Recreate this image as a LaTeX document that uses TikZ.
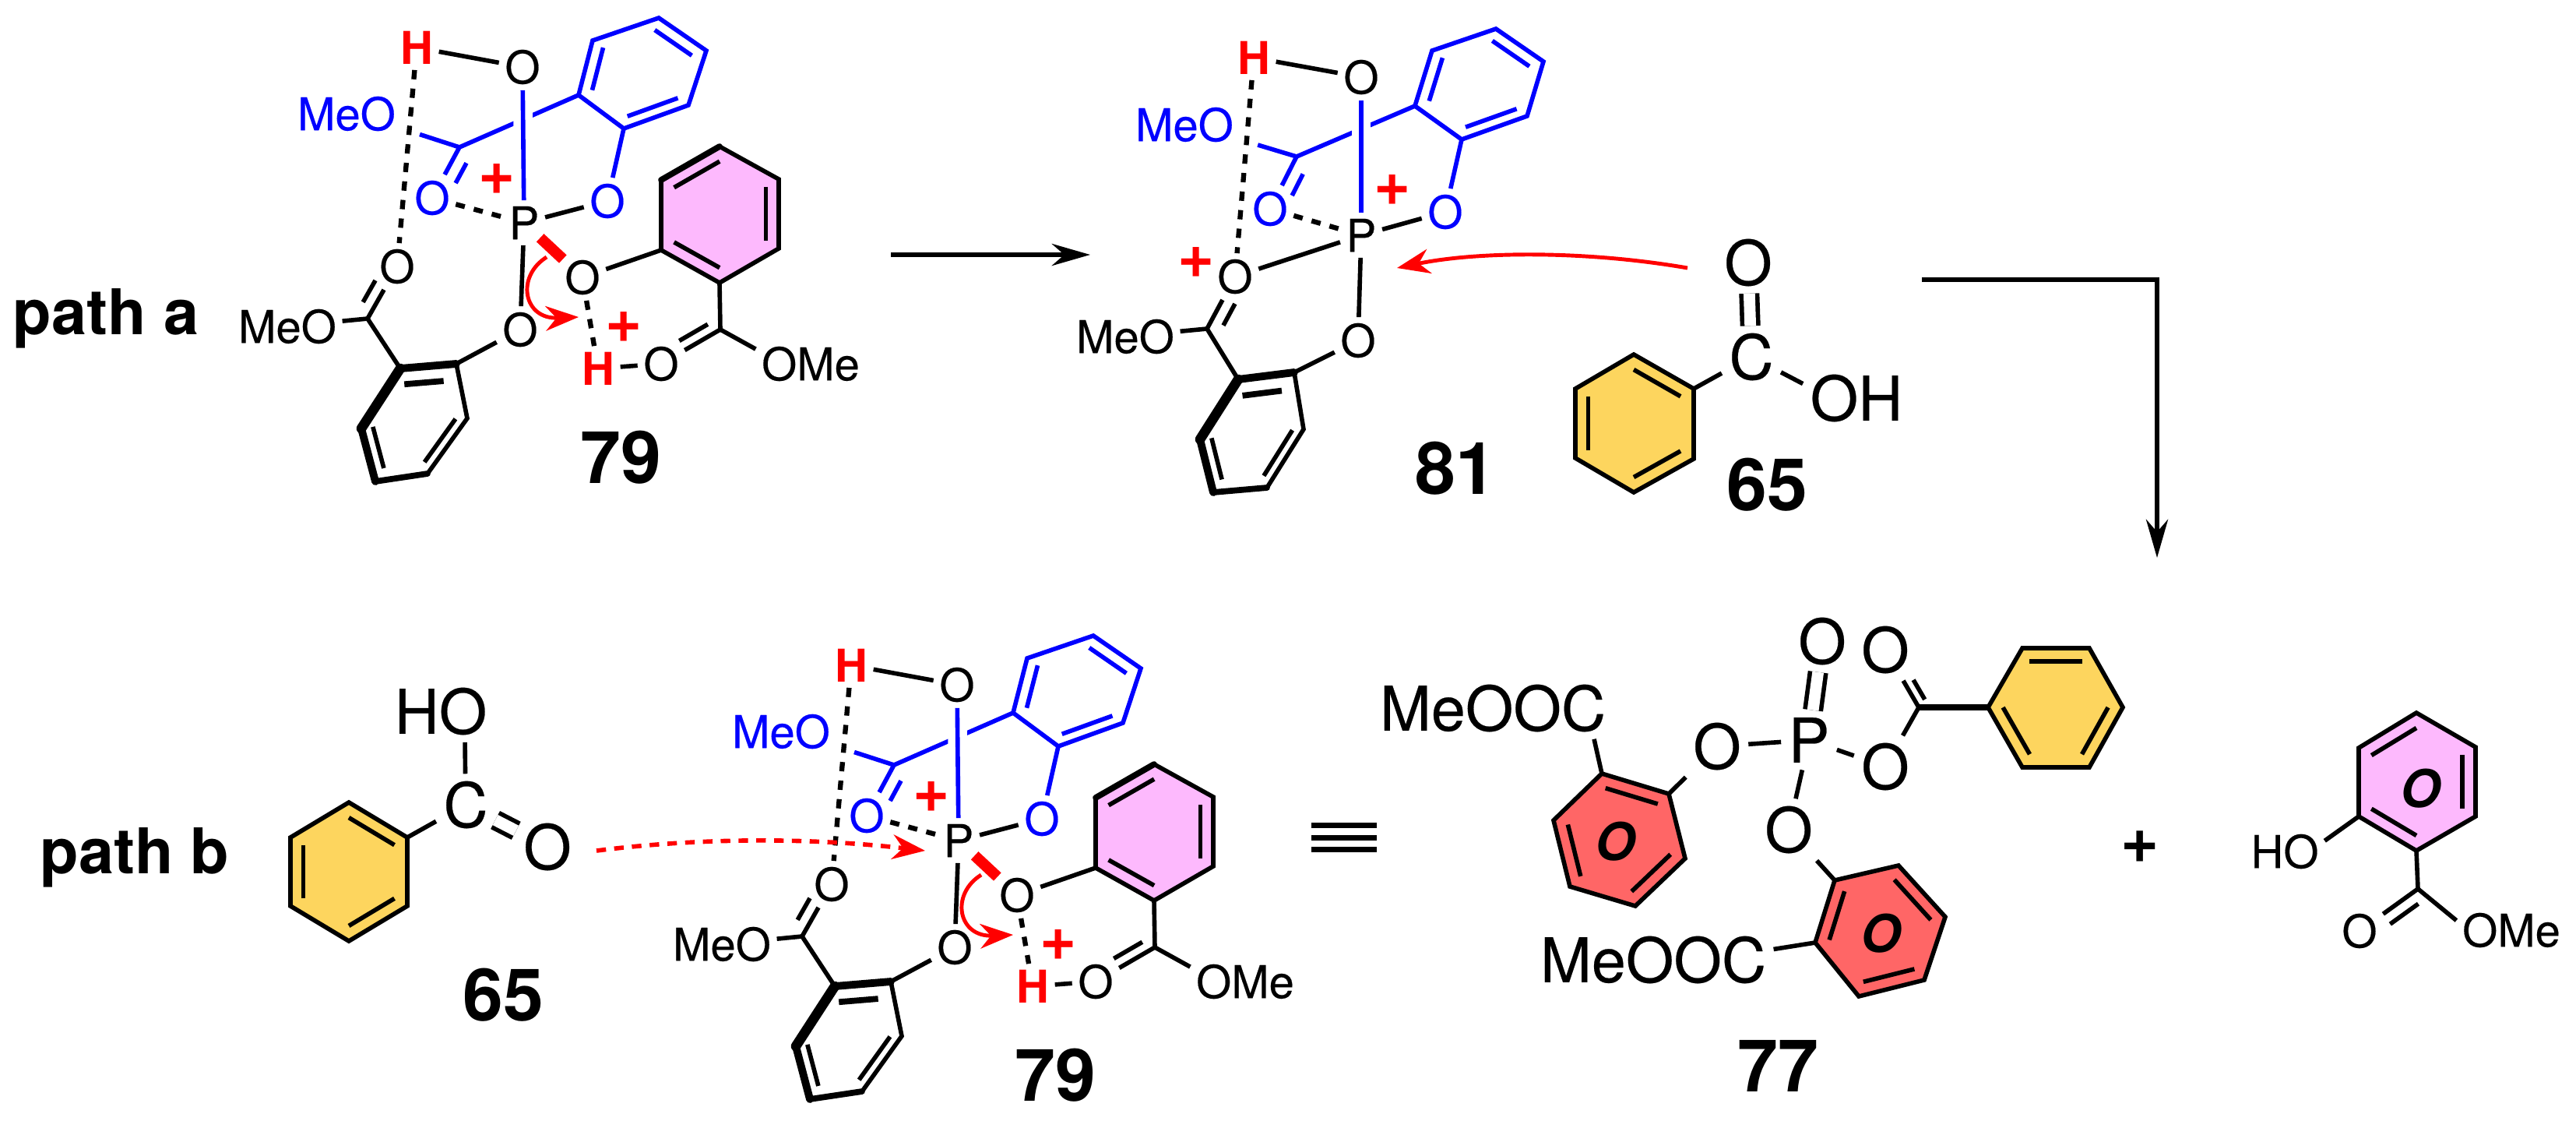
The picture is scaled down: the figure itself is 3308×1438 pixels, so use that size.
\documentclass[tikz,border=0pt]{standalone}
\usepackage{fontspec}
\setmainfont{TeX Gyre Heros}[UprightFeatures = {FakeBold = 0.3}]
\usetikzlibrary{calc, arrows.meta}
\definecolor{molblue}{RGB}{0,0,255}
\definecolor{molred}{RGB}{255,0,0}
\definecolor{ringpink}{RGB}{253,185,253}
\definecolor{ringyellow}{RGB}{253,213,94}
\definecolor{ringred}{RGB}{255,102,102}
\tikzset{
	bond/.style = {line width = 1.6pt},
	hbond/.style = {line width = 1.8pt, dash pattern = on 3.4pt off 3.4pt},
	symdouble/.style = {bond, double, double distance = 4.2pt},
	atom/.style = {font = \fontsize{16.5}{18}\selectfont, inner sep = 2pt},
	bigatom/.style = {font = \fontsize{22.5}{24}\selectfont, inner sep = 2.5pt},
	chargemark/.style = {font = \fontsize{23}{24}\bfseries\selectfont, text = molred, inner sep = 0pt},
	cmpdlabel/.style = {font = \fontsize{26.5}{28}\bfseries\selectfont, inner sep = 0pt},
	pathlabel/.style = {font = \fontsize{23}{25}\bfseries\selectfont, inner sep = 0pt},
	ringtag/.style = {font = \fontsize{19}{20}\bfseries\itshape\selectfont, inner sep = 0pt},
	wedgebond/.style = {molred, line width = 4pt, shorten < = -2.5pt, shorten > = -2pt},
	redarrow/.style = {molred, line width = 1.4pt, -{Stealth[length = 12pt, width = 9pt]}},
	rxnarrow/.style = {line width = 1.6pt, -{Stealth[length = 14pt, width = 8pt]}}
}
\newcommand{\dbond}[3]{
	\draw [bond] (#1) -- (#2);
	\draw [bond, shorten < = 3pt, transform canvas = {shift = {#3}}] (#1) -- (#2);
}
\newcommand{\hexring}[9]{
	\coordinate (#11) at #3;
	\coordinate (#12) at #4;
	\coordinate (#13) at #5;
	\coordinate (#14) at #6;
	\coordinate (#15) at #7;
	\coordinate (#16) at #8;
	\coordinate (#1c) at ($(#11)!0.5!(#14)$);
	\draw [bond, #2] (#11) -- (#12) -- (#13) -- (#14) -- (#15) -- (#16) -- cycle;
	\foreach \p/\q in {#9}
		\draw [bond] ($(#1\p)!0.22!(#1c)$) -- ($(#1\q)!0.22!(#1c)$);
}
\newcommand{\phosphorane}{
	\begin{scope}[color = molblue]
		\hexring{bl}{}{(761,52)}{(846,23)}{(907,65)}{(884,135)}{(801,165)}{(743,122)}{6/1,2/3,4/5}
		\node [atom] (MeOb) at (445,146) {MeO};
		\node [atom] (Oc) at (555,254) {O};
		\node [atom] (Oe) at (780,258) {O};
		\coordinate (Cb) at (590,189);
		\draw [bond] (bl6) -- (Cb);
		\draw [bond, shorten > = 7pt] (Cb) -- (MeOb.-15);
		\dbond{Cb}{Oc}{(14,11)}
		\draw [bond] (bl5) -- (Oe);
	\end{scope}
	\node [atom, text = molred] (H) at (535,61) {\bfseries H};
	\node [atom] (Ot) at (671,86) {O};
	\node [atom] (P) at (673,286) {P};
	\node [atom] (Ol) at (510,342) {O};
	\node [atom] (Ob) at (668,423) {O};
	\node [atom] (Or) at (748,356) {O};
	\node [atom] (MeOl) at (369,419) {MeO};
	\node [atom, text = molred] (Hr) at (768,473) {\bfseries H};
	\node [atom] (Ocr) at (849,467) {O};
	\node [atom] (OMer) at (1041,467) {OMe};
	\draw [molblue, bond, preaction = {draw, white, line width = 7pt}] (Ot) -- (P);
	\draw [bond] (H) -- (Ot);
	\draw [bond] (P) -- (Oe);
	\draw [bond] (P) -- (Ob);
	\draw [hbond] (Oc) -- (P);
	\draw [hbond] (H) -- (Ol);
	\draw [hbond] (Or) -- (Hr);
	\draw [bond] (Hr) -- (Ocr);
	\draw [wedgebond] (P) -- (Or);
	\hexring{lr}{}{(514,473)}{(586,467)}{(600,537)}{(549,608)}{(482,618)}{(464,550)}{3/4,5/6}
	\draw [line width = 3.6pt, line cap = round] (lr1) -- (lr6);
	\draw [line width = 2.8pt, line cap = round] (lr1) -- (lr2);
	\draw [line width = 2.8pt, line cap = round] (lr6) -- (lr5);
	\draw [line width = 2.2pt, line cap = round] (lr5) -- (lr4);
	\draw [line width = 2.2pt] ($(lr1)!0.3!(lrc)$) -- ($(lr2)!0.3!(lrc)$);
	\coordinate (Cl) at (472,409);
	\dbond{Cl}{Ol}{(-11,-12)}
	\draw [bond] (MeOl) -- (Cl);
	\draw [bond] (lr1) -- (Cl);
	\draw [bond] (Ob) -- (lr2);
	\hexring{pk}{fill = ringpink}{(849,231)}{(924,188)}{(1000,230)}{(1000,319)}{(924,363)}{(849,321)}{1/2,3/4,5/6}
	\draw [line width = 2.2pt, line cap = round] (pk1) -- (pk2);
	\draw [bond] (Or) -- (pk6);
	\coordinate (Cr) at (925,423);
	\draw [bond] (pk5) -- (Cr);
	\dbond{Cr}{Ocr}{(-7,-12)}
	\draw [bond] (Cr) -- (OMer.165);
	\node [chargemark] (plusa) at (638,230) {+};
	\node [chargemark] (plusb) at (801,420) {+};
	\coordinate (arcs) at (702,330);
	\coordinate (arce) at (743,407);
	\draw [redarrow] (arcs) .. controls (662,355) and (672,410) .. (arce);
	\node [cmpdlabel] (lab) at (797,587) {79};
}
\begin{document}
\begin{tikzpicture}[x = 0.01cm, y = -0.01cm]
	\useasboundingbox (0,0) rectangle (3308,1438);

	\node [pathlabel] (patha) at (136,409) {path a};
	\node [pathlabel] (pathb) at (173,1101) {path b};

	\begin{scope}[name prefix = top-]
		\phosphorane
	\end{scope}
	\begin{scope}[shift = {(558,793)}, name prefix = low-]
		\phosphorane
	\end{scope}

	\coordinate (arras) at (1144,327);
	\coordinate (arrae) at (1400,327);
	\draw [rxnarrow] (arras) -- (arrae);
	\coordinate (arrbs) at (2468,359);
	\coordinate (arrbe) at (2770,716);
	\draw [rxnarrow] (arrbs) -| (arrbe);

	\begin{scope}[color = molblue]
		\hexring{mbl}{}{(1839,65)}{(1921,37)}{(1982,79)}{(1961,149)}{(1877,179)}{(1817,136)}{6/1,2/3,4/5}
		\node [atom] (mMeOb) at (1521,160) {MeO};
		\node [atom] (mOc) at (1631,268) {O};
		\node [atom] (mOe) at (1856,272) {O};
		\coordinate (mCb) at (1665,201);
		\draw [bond] (mbl6) -- (mCb);
		\draw [bond, shorten > = 7pt] (mCb) -- (mMeOb.-15);
		\dbond{mCb}{mOc}{(13,13)}
		\draw [bond] (mbl5) -- (mOe);
	\end{scope}
	\node [atom, text = molred] (mH) at (1610,74) {\bfseries H};
	\node [atom] (mOt) at (1748,99) {O};
	\node [atom] (mP) at (1748,302) {P};
	\node [atom] (mOl) at (1586,355) {O};
	\node [atom] (mOb) at (1744,437) {O};
	\node [atom] (mMeOl) at (1445,432) {MeO};
	\draw [molblue, bond, preaction = {draw, white, line width = 7pt}] (mOt) -- (mP);
	\draw [bond] (mH) -- (mOt);
	\draw [bond] (mP) -- (mOe);
	\draw [bond] (mP) -- (mOl);
	\draw [bond] (mP) -- (mOb);
	\draw [hbond] (mOc) -- (mP);
	\draw [hbond] (mH) -- (mOl);
	\hexring{mlr}{}{(1590,487)}{(1662,478)}{(1674,551)}{(1627,626)}{(1558,632)}{(1541,564)}{3/4,5/6}
	\draw [line width = 3.6pt, line cap = round] (mlr1) -- (mlr6);
	\draw [line width = 2.8pt, line cap = round] (mlr1) -- (mlr2);
	\draw [line width = 2.8pt, line cap = round] (mlr6) -- (mlr5);
	\draw [line width = 2.2pt, line cap = round] (mlr5) -- (mlr4);
	\draw [line width = 2.2pt] ($(mlr1)!0.3!(mlrc)$) -- ($(mlr2)!0.3!(mlrc)$);
	\coordinate (mCl) at (1550,422);
	\dbond{mCl}{mOl}{(16,5)}
	\draw [bond] (mMeOl) -- (mCl);
	\draw [bond] (mlr1) -- (mCl);
	\draw [bond] (mOb) -- (mlr2);
	\node [chargemark] (mplusa) at (1788,244) {+};
	\node [chargemark] (mplusb) at (1536,337) {+};
	\node [cmpdlabel] (labm) at (1869,601) {81};

	\hexring{yr}{fill = ringyellow}{(2098,455)}{(2175,499)}{(2175,589)}{(2098,632)}{(2023,588)}{(2023,499)}{1/2,3/4,5/6}
	\node [bigatom] (yrC) at (2249,458) {C};
	\node [bigatom] (yrO) at (2245,337) {O};
	\node [bigatom] (yrOH) at (2384,511) {OH};
	\draw [symdouble] (yrC) -- (yrO);
	\draw [bond] (yr2) -- (yrC);
	\draw [bond] (yrC) -- (yrOH.165);
	\node [cmpdlabel] (laby) at (2269,622) {65};
	\coordinate (attas) at (2167,344);
	\coordinate (attae) at (1794,344);
	\draw [redarrow] (attas) .. controls (2040,322) and (1900,322) .. (attae);

	\hexring{yl}{fill = ringyellow}{(448,1030)}{(523,1075)}{(523,1163)}{(448,1208)}{(373,1163)}{(373,1075)}{1/2,3/4,5/6}
	\node [bigatom] (ylC) at (598,1033) {C};
	\node [bigatom] (ylO) at (703,1087) {O};
	\node [bigatom] (ylHO) at (566,913) {HO};
	\draw [symdouble] (ylC) -- (ylO);
	\draw [bond] (yl2) -- (ylC);
	\draw [bond] (ylC) -- (ylHO.-52);
	\node [cmpdlabel] (labl) at (646,1277) {65};
	\coordinate (attbs) at (766,1092);
	\coordinate (attbe) at (1188,1092);
	\draw [redarrow, line width = 1.6pt, dash pattern = on 3.5pt off 3pt] (attbs) .. controls (900,1075) and (1040,1075) .. (attbe);

	\foreach \y in {1059,1075,1090}
		\draw [line width = 2pt] (1684,\y) -- (1768,\y);

	\node [bigatom] (pP) at (2323,950) {P};
	\node [bigatom] (pOt) at (2340,823) {O};
	\node [bigatom] (pOl) at (2205,958) {O};
	\node [bigatom] (pOr) at (2421,984) {O};
	\node [bigatom] (pOb) at (2297,1065) {O};
	\node [bigatom] (pOa) at (2421,834) {O};
	\node [bigatom] (MeOOCa) at (1917,909) {MeOOC};
	\node [bigatom] (MeOOCb) at (2123,1232) {MeOOC};
	\coordinate (pC) at (2464,908);
	\draw [symdouble] (pP) -- (pOt);
	\draw [bond] (pOl) -- (pP);
	\draw [bond] (pP) -- (pOr);
	\draw [bond] (pP) -- (pOb);
	\dbond{pC}{pOa}{(13,-1)}
	\draw [bond] (pOr) -- (pC);
	\hexring{py}{fill = ringyellow}{(2597,832)}{(2683,832)}{(2726,908)}{(2683,985)}{(2597,985)}{(2553,908)}{1/2,3/4,5/6}
	\draw [line width = 2.5pt] (pC) -- (py6);
	\hexring{ra}{fill = ringred}{(2057,993)}{(2143,1019)}{(2164,1102)}{(2100,1163)}{(2016,1138)}{(1995,1053)}{1/2,3/4,5/6}
	\node [ringtag] (tagra) at (2074,1080) {O};
	\draw [bond] (MeOOCa.-17) -- (ra1);
	\draw [bond] (pOl) -- (ra2);
	\hexring{rb}{fill = ringred}{(2356,1130)}{(2438,1111)}{(2498,1177)}{(2471,1258)}{(2387,1279)}{(2331,1210)}{2/3,4/5,6/1}
	\node [ringtag] (tagrb) at (2415,1198) {O};
	\draw [bond] (pOb) -- (rb1);
	\draw [bond] (MeOOCb.5) -- (rb6);
	\node [cmpdlabel] (labp) at (2283,1368) {77};

	\node [font = \fontsize{24}{26}\bfseries\selectfont, inner sep = 0pt] (plusc) at (2748,1087) {+};

	\hexring{sa}{fill = ringpink}{(3103,915)}{(3179,959)}{(3179,1048)}{(3103,1092)}{(3029,1048)}{(3029,960)}{6/1,2/3,4/5}
	\node [ringtag] (tagsa) at (3108,1012) {O};
	\node [atom] (saHO) at (2934,1093) {HO};
	\node [atom] (saO) at (3030,1195) {O};
	\node [atom] (saOMe) at (3225,1194) {OMe};
	\coordinate (saC) at (3105,1141);
	\draw [bond] (saHO.15) -- (sa5);
	\draw [bond] (sa4) -- (saC);
	\dbond{saC}{saO}{(9,13)}
	\draw [bond] (saC) -- (saOMe.170);
\end{tikzpicture}
\end{document}
